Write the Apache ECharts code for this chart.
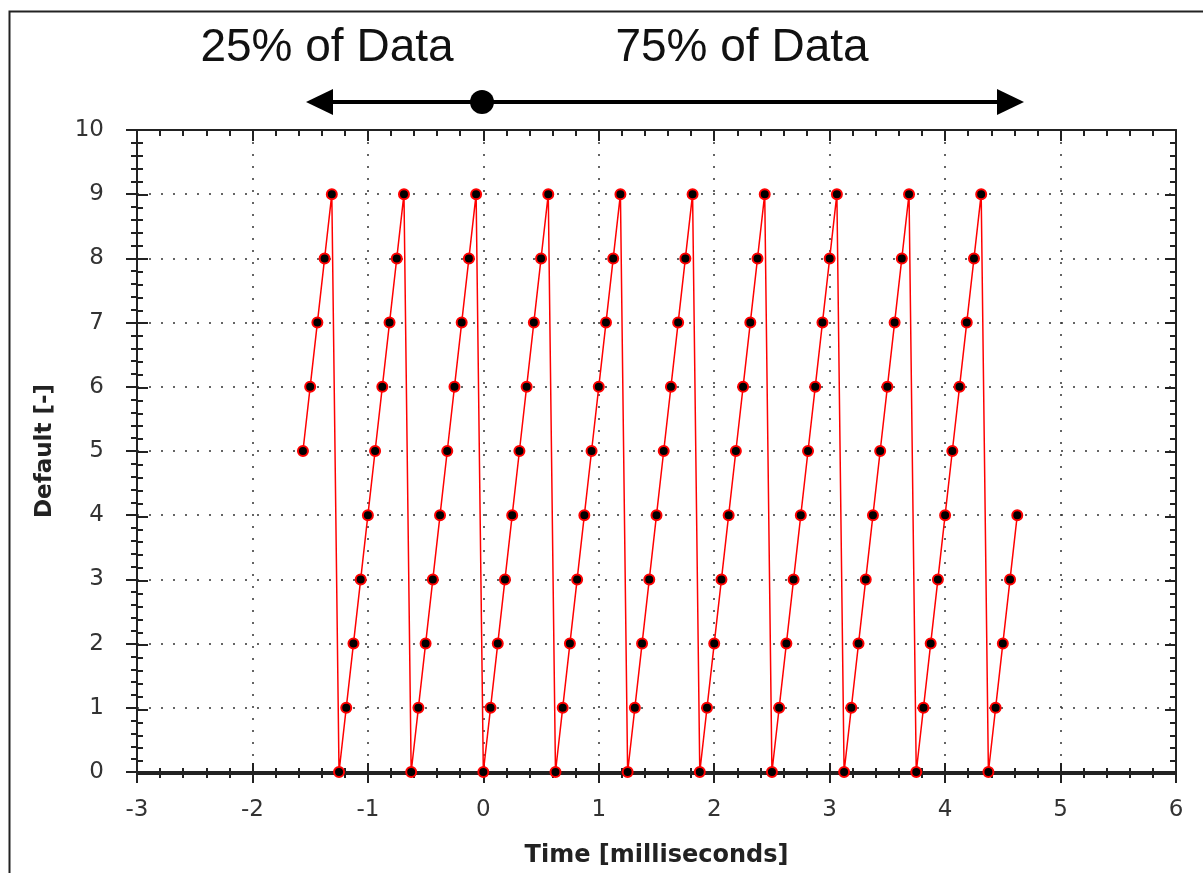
<!DOCTYPE html>
<html>
<head>
<meta charset="utf-8">
<script src="https://cdn.jsdelivr.net/npm/echarts@6/dist/echarts.min.js"></script>
<style>
html,body{margin:0;padding:0;background:#fff;}
#chart{width:1203px;height:873px;}
</style>
</head>
<body>
<div id="chart"></div>
<script>
// Sample times (milliseconds)
var times = [
  -1.5625, -1.5, -1.4375, -1.375, -1.3125,
  -1.25, -1.1875, -1.125, -1.0625, -1, -0.9375, -0.875, -0.8125, -0.75, -0.6875,
  -0.625, -0.5625, -0.5, -0.4375, -0.375, -0.3125, -0.25, -0.1875, -0.125, -0.0625,
  0, 0.0625, 0.125, 0.1875, 0.25, 0.3125, 0.375, 0.4375, 0.5, 0.5625,
  0.625, 0.6875, 0.75, 0.8125, 0.875, 0.9375, 1, 1.0625, 1.125, 1.1875,
  1.25, 1.3125, 1.375, 1.4375, 1.5, 1.5625, 1.625, 1.6875, 1.75, 1.8125,
  1.875, 1.9375, 2, 2.0625, 2.125, 2.1875, 2.25, 2.3125, 2.375, 2.4375,
  2.5, 2.5625, 2.625, 2.6875, 2.75, 2.8125, 2.875, 2.9375, 3, 3.0625,
  3.125, 3.1875, 3.25, 3.3125, 3.375, 3.4375, 3.5, 3.5625, 3.625, 3.6875,
  3.75, 3.8125, 3.875, 3.9375, 4, 4.0625, 4.125, 4.1875, 4.25, 4.3125,
  4.375, 4.4375, 4.5, 4.5625, 4.625
];
// Sample values
var values = [
  5, 6, 7, 8, 9,
  0, 1, 2, 3, 4, 5, 6, 7, 8, 9,
  0, 1, 2, 3, 4, 5, 6, 7, 8, 9,
  0, 1, 2, 3, 4, 5, 6, 7, 8, 9,
  0, 1, 2, 3, 4, 5, 6, 7, 8, 9,
  0, 1, 2, 3, 4, 5, 6, 7, 8, 9,
  0, 1, 2, 3, 4, 5, 6, 7, 8, 9,
  0, 1, 2, 3, 4, 5, 6, 7, 8, 9,
  0, 1, 2, 3, 4, 5, 6, 7, 8, 9,
  0, 1, 2, 3, 4, 5, 6, 7, 8, 9,
  0, 1, 2, 3, 4
];
var xTicks = { min: -3, max: 6, interval: 1 };
var yTicks = { min: 0, max: 10, interval: 1 };
var xTitle = 'Time [milliseconds]';
var yTitle = 'Default [-]';
var leftNote = '25% of Data';
var rightNote = '75% of Data';

var pts = times.map(function (t, i) { return [t, values[i]]; });

var FONT = '"Liberation Sans", Arial, sans-serif';
var TFONT = '"DejaVu Sans", Verdana, sans-serif';
var AX = '#222';
var gridBox = { left: 137, right: 27, top: 130, bottom: 99 };

function tickAxis(kind, gridIndex, position, inside, withLabels, extra) {
  var r = kind === 'x' ? xTicks : yTicks;
  var a = {
    type: 'value', gridIndex: gridIndex, position: position,
    min: r.min, max: r.max, interval: r.interval,
    axisLine: { show: true, onZero: false, lineStyle: { color: AX, width: 2 } },
    axisTick: { show: true, inside: inside, length: 11, lineStyle: { color: AX, width: 2 } },
    minorTick: { show: true, splitNumber: 5, length: 6, lineStyle: { color: AX, width: 2 } },
    axisLabel: { show: withLabels, color: '#333', fontFamily: TFONT, fontSize: 23,
                 margin: kind === 'x' ? 27 : 33 },
    splitLine: { show: false },
    minorSplitLine: { show: false }
  };
  if (extra) for (var k in extra) a[k] = extra[k];
  return a;
}

var chart = echarts.init(document.getElementById('chart'), null, { renderer: 'canvas' });
chart.setOption({
  animation: false,
  backgroundColor: '#fff',
  grid: [
    Object.assign({ containLabel: false }, gridBox),
    Object.assign({ containLabel: false }, gridBox)
  ],
  xAxis: [
    tickAxis('x', 0, 'bottom', false, true, {
      name: xTitle, nameLocation: 'middle', nameGap: 72,
      nameTextStyle: { fontFamily: TFONT, fontWeight: 'bold', fontSize: 24, color: '#222' },
      splitLine: { show: true, lineStyle: { color: '#333', width: 1.5, type: [2, 10] } }
    }),
    tickAxis('x', 1, 'bottom', true, false),
    tickAxis('x', 1, 'top', true, false)
  ],
  yAxis: [
    tickAxis('y', 0, 'left', false, true, {
      name: yTitle, nameLocation: 'middle', nameGap: 80, nameRotate: 90,
      nameTextStyle: { fontFamily: TFONT, fontWeight: 'bold', fontSize: 23, color: '#222' },
      splitLine: { show: true, lineStyle: { color: '#333', width: 1.5, type: [2, 10] } }
    }),
    tickAxis('y', 1, 'left', true, false),
    tickAxis('y', 1, 'right', true, false)
  ],
  series: [{
    type: 'line',
    xAxisIndex: 0, yAxisIndex: 0,
    data: pts,
    symbol: 'circle', symbolSize: 10,
    showSymbol: true,
    z: 5,
    lineStyle: { color: '#ff0000', width: 1.5 },
    itemStyle: { color: '#000', borderColor: '#ff0000', borderWidth: 2 }
  }],
  graphic: [
    { type: 'rect', silent: true, z: 100,
      shape: { x: 9.5, y: 11.5, width: 1300, height: 1000 },
      style: { fill: null, stroke: '#222', lineWidth: 2 } },
    { type: 'text', z: 100, x: 327, y: 48,
      style: { text: leftNote, font: '46px ' + FONT, fill: '#111', align: 'center', verticalAlign: 'middle' } },
    { type: 'text', z: 100, x: 742, y: 48,
      style: { text: rightNote, font: '46px ' + FONT, fill: '#111', align: 'center', verticalAlign: 'middle' } },
    { type: 'line', z: 100, shape: { x1: 325, y1: 102, x2: 1005, y2: 102 },
      style: { stroke: '#000', lineWidth: 4 } },
    { type: 'polygon', z: 100, shape: { points: [[306, 102], [333, 89], [333, 115]] },
      style: { fill: '#000' } },
    { type: 'polygon', z: 100, shape: { points: [[1024, 102], [997, 89], [997, 115]] },
      style: { fill: '#000' } },
    { type: 'circle', z: 101, shape: { cx: 482, cy: 102, r: 12 },
      style: { fill: '#000' } }
  ]
});
</script>
</body>
</html>
